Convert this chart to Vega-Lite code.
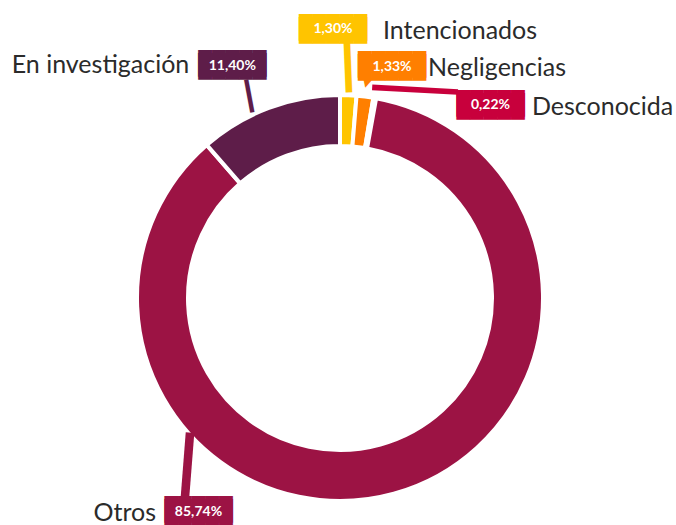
{
  "$schema": "https://vega.github.io/schema/vega-lite/v6.json",
  "width": 670,
  "height": 454,
  "autosize": {"type": "none"},
  "padding": {"left": 5, "top": 71, "right": 1, "bottom": 0},
  "background": "white",
  "config": {"view": {"stroke": null}},
  "data": {
    "values": [
      {"categoria": "Intencionados", "valor": 1.30, "orden": 1, "etiqueta": "1,30%"},
      {"categoria": "Negligencias", "valor": 1.33, "orden": 2, "etiqueta": "1,33%"},
      {"categoria": "Desconocida", "valor": 0.22, "orden": 3, "etiqueta": "0,22%"},
      {"categoria": "Otros", "valor": 85.74, "orden": 4, "etiqueta": "85,74%"},
      {"categoria": "En investigación", "valor": 11.40, "orden": 5, "etiqueta": "11,40%"}
    ]
  },
  "encoding": {
    "theta": {"field": "valor", "type": "quantitative", "stack": true},
    "order": {"field": "orden", "type": "quantitative"},
    "detail": {"field": "categoria", "type": "nominal"}
  },
  "layer": [
    {
      "mark": {"type": "arc", "outerRadius": 203, "innerRadius": 152, "stroke": "white", "strokeWidth": 4},
      "encoding": {
        "color": {
          "field": "categoria", "type": "nominal", "legend": null,
          "scale": {
            "domain": ["Intencionados", "Negligencias", "Desconocida", "Otros", "En investigación"],
            "range": ["#FFC400", "#FF7F00", "#C8003C", "#9C1344", "#5E1D49"]
          }
        }
      }
    },
    {
      "mark": {
        "type": "text", "radius": 200, "font": "DejaVu Sans Mono", "align": "center", "baseline": "alphabetic",
        "text": {"expr": "['┃','▼','│','┃','┃'][datum.orden-1]"},
        "fontSize": {"expr": "[42,19,72.3,55,28][datum.orden-1]"},
        "angle": {"expr": "[357.66,15,273.07,4.47,349.38][datum.orden-1]"},
        "dx": {"expr": "[1.05,-2.4,13.42,-207.0,-17.5][datum.orden-1]"},
        "dy": {"expr": "[-16.15,-12.47,65.07,9.33,-8.66][datum.orden-1]"}
      },
      "encoding": {
        "color": {"field": "categoria", "type": "nominal", "legend": null}
      }
    },
    {
      "mark": {
        "type": "text", "radius": 200, "font": "DejaVu Sans Mono", "fontSize": 22.6, "align": "center", "baseline": "alphabetic",
        "lineHeight": 3,
        "text": ["█████", "█████"],
        "dx": {"expr": "[-15.2,27.4,116.2,-194.6,-37.6][datum.orden-1]"},
        "dy": {"expr": "[-63.35,-27.15,9.85,26.55,-39.45][datum.orden-1]"}
      },
      "encoding": {
        "color": {"field": "categoria", "type": "nominal", "legend": null}
      }
    },
    {
      "mark": {
        "type": "text", "radius": 200, "font": "Lato", "fontWeight": "bold", "fontSize": 14, "color": "white",
        "align": "center", "baseline": "alphabetic",
        "dx": {"expr": "[-15.2,27.4,116.2,-194.6,-37.6][datum.orden-1]"},
        "dy": {"expr": "[-64.7,-28.5,8.5,25.2,-40.8][datum.orden-1]"}
      },
      "encoding": {
        "text": {"field": "etiqueta", "type": "nominal"}
      }
    },
    {
      "mark": {
        "type": "text", "radius": 200, "font": "Lato", "fontSize": 25, "color": "#2b2b2b", "baseline": "alphabetic",
        "align": {"expr": "['left','left','left','right','right'][datum.orden-1]"},
        "dx": {"expr": "[34.8,63.4,157.7,-237.1,-80.6][datum.orden-1]"},
        "dy": {"expr": "[-59.2,-23.5,14,30.2,-37.8][datum.orden-1]"}
      },
      "encoding": {
        "text": {"field": "categoria", "type": "nominal"}
      }
    }
  ]
}
